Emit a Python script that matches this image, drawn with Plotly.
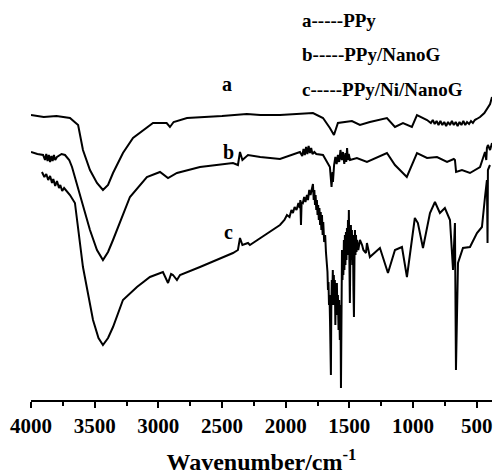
import plotly.graph_objects as go

# Curve a: PPy
wn_a = [4000, 3900, 3800, 3694, 3630, 3592, 3537, 3482, 3435, 3395, 3356, 3278, 3199, 3042,
        2935, 2909, 2880, 2775, 2500, 2305, 2200, 2045, 1786, 1707, 1653, 1621, 1590, 1535,
        1480, 1417, 1339, 1205, 1142, 1079, 1009, 969, 890, 860, 845, 830, 815, 800, 785,
        770, 755, 740, 725, 710, 695, 680, 665, 650, 635, 620, 605, 590, 576, 560, 545,
        530, 515, 500, 474, 440, 412, 395, 380]
t_a = [285, 283, 284, 282, 275, 250, 230, 217, 210, 215, 227, 247, 262, 277,
       277, 273, 278, 282, 284, 286, 285, 285, 287, 282, 272, 265, 277, 278,
       279, 275, 278, 282, 273, 277, 273, 285, 280, 277, 280, 276, 279, 275, 279,
       275, 278, 274, 278, 275, 279, 275, 278, 274, 278, 275, 279, 275, 278, 276,
       279, 277, 280, 281, 283, 287, 292, 296, 303]

# Curve b: PPy/NanoG
wn_b = [4000, 3950, 3905, 3890, 3880, 3870, 3860, 3850, 3840, 3830, 3820, 3810, 3796,
        3760, 3733, 3700, 3678, 3592, 3537, 3482, 3435, 3395, 3356, 3223, 3090, 2987, 2924,
        2854, 2673, 2414, 2375, 2359, 2340, 2296, 2200, 2045, 1888, 1870, 1860, 1850, 1840,
        1830, 1820, 1810, 1800, 1790, 1775, 1760, 1707, 1653, 1640, 1632, 1629, 1620, 1610,
        1600, 1590, 1580, 1570, 1560, 1550, 1540, 1530, 1525, 1518, 1512, 1505, 1495, 1441,
        1362, 1205, 1142, 1049, 969, 890, 812, 733, 680, 671, 662, 616, 553, 474, 435, 425,
        420, 412, 395, 380]
t_b = [248, 246, 245, 240, 246, 239, 245, 238, 244, 239, 245, 240, 243,
       246, 245, 240, 233, 193, 170, 150, 140, 148, 160, 203, 223, 228, 222,
       227, 233, 237, 235, 248, 240, 245, 243, 241, 248, 244, 251, 245, 253,
       246, 254, 247, 252, 246, 248, 246, 245, 233, 213, 228, 218, 235, 243,
       236, 245, 238, 250, 240, 248, 236, 247, 238, 252, 240, 246, 240, 242,
       238, 247, 235, 223, 247, 242, 243, 238, 241, 240, 228, 230, 227, 233, 248, 240,
       252, 255, 250, 257]

# Curve c: PPy/Ni/NanoG
wn_c = [3914, 3895, 3880, 3865, 3850, 3835, 3825, 3810, 3796, 3780, 3770, 3755, 3740,
        3694, 3655, 3592, 3513, 3470, 3435, 3395, 3356, 3278, 3168, 3066, 2964, 2924, 2900,
        2885, 2854, 2830, 2673, 2414, 2375, 2359, 2340, 2296, 2281, 2124, 2045, 2010, 1990,
        1970, 1955, 1943, 1930, 1915, 1900, 1890, 1885, 1880, 1875, 1865, 1855, 1845, 1833,
        1825, 1815, 1805, 1795, 1786, 1780, 1775, 1770, 1765, 1760, 1755, 1750, 1745, 1740,
        1735, 1730, 1725, 1720, 1715, 1710, 1705, 1698, 1690, 1684, 1678, 1672, 1668, 1664,
        1660, 1656, 1652, 1648, 1645, 1642, 1638, 1634,
        1630, 1626, 1622, 1618, 1614, 1610, 1606, 1602, 1598, 1594, 1590, 1585, 1580, 1575,
        1570, 1566, 1562, 1558, 1554, 1551, 1547, 1543, 1539, 1535, 1531, 1527, 1523, 1519,
        1515, 1511, 1507, 1504, 1500, 1496, 1492, 1488, 1484, 1480, 1476, 1472, 1468, 1464,
        1460, 1456, 1452, 1448, 1444, 1440, 1430, 1417, 1400, 1390, 1370, 1362, 1339, 1284,
        1260, 1197, 1142, 1087, 1048, 986, 962, 922, 867, 828, 789, 750, 710, 686, 671, 663,
        647, 608, 553, 498, 459, 435, 420, 415, 412, 396]
t_c = [228, 223, 226, 220, 224, 217, 221, 214, 219, 212, 215, 209, 212,
       205, 197, 133, 80, 62, 55, 62, 73, 100, 113, 123, 128, 117, 126,
       125, 120, 125, 133, 147, 150, 162, 155, 157, 155, 168, 175, 180, 185,
       183, 190, 187, 193, 190, 197, 192, 200, 175, 198, 197, 203, 198, 205,
       200, 210, 205, 212, 216, 200, 210, 195, 205, 190, 200, 185, 195, 180,
       192, 175, 188, 170, 185, 165, 178, 158, 165, 148, 140, 128, 110, 118,
       95, 105, 80, 60, 25, 90, 120, 105,
       130, 95, 125, 100, 120, 75, 115, 90, 117, 85, 105, 70, 100, 60,
       95, 12, 110, 150, 120, 147, 125, 160, 130, 165, 135, 168, 140, 172,
       145, 180, 150, 190, 140, 97, 150, 175, 140, 170, 135, 165, 110, 83,
       140, 170, 145, 165, 148, 160, 150, 160, 155, 150, 147, 157, 143, 150,
       152, 127, 150, 153, 123, 182, 177, 152, 187, 198, 187, 192, 180, 130, 177, 30,
       137, 152, 153, 167, 173, 203, 220, 157, 230, 235]

curve_labels = ["a", "b", "c"]
label_wn = [2461, 2453, 2453]
label_t = [316, 248, 168]

legend_lines = ["a-----PPy", "b-----PPy/NanoG", "c-----PPy/Ni/NanoG"]
legend_t = [380, 346, 311]

font_family = "Liberation Serif"

fig = go.Figure()
for wn, t in [(wn_a, t_a), (wn_b, t_b), (wn_c, t_c)]:
    fig.add_trace(go.Scatter(x=wn, y=t, mode="lines",
                             line=dict(color="black", width=2), showlegend=False,
                             hoverinfo="skip"))

for lab, x, y in zip(curve_labels, label_wn, label_t):
    fig.add_annotation(x=x, y=y, text="<b>" + lab + "</b>", showarrow=False,
                       font=dict(family=font_family, size=20, color="black"))

for txt, y in zip(legend_lines, legend_t):
    fig.add_annotation(x=1888, y=y, text="<b>" + txt + "</b>", showarrow=False, xanchor="left",
                       font=dict(family=font_family, size=19, color="black"))

tick_vals = [4000, 3500, 3000, 2500, 2000, 1500, 1000, 500]
fig.update_layout(
    width=494, height=475,
    margin=dict(l=31, r=2, t=0, b=75),
    plot_bgcolor="white", paper_bgcolor="white",
    xaxis=dict(range=[4000, 380], tickvals=tick_vals,
               ticktext=["<b>%d</b>" % v for v in tick_vals],
               ticks="outside", ticklen=6, tickwidth=2, tickcolor="black",
               showline=True, linecolor="black", linewidth=2, showgrid=False,
               zeroline=False,
               minor=dict(tickvals=[3750, 3250, 2750, 2250, 1750, 1250, 750],
                          ticks="outside", ticklen=4, tickwidth=2, tickcolor="black"),
               tickfont=dict(family=font_family, size=21, color="black"),
               title=dict(text="<b>Wavenumber/cm<sup>-1</sup></b>", standoff=16,
                          font=dict(family=font_family, size=24, color="black"))),
    yaxis=dict(range=[0, 400], visible=False),
)

fig.write_html("out.html")
